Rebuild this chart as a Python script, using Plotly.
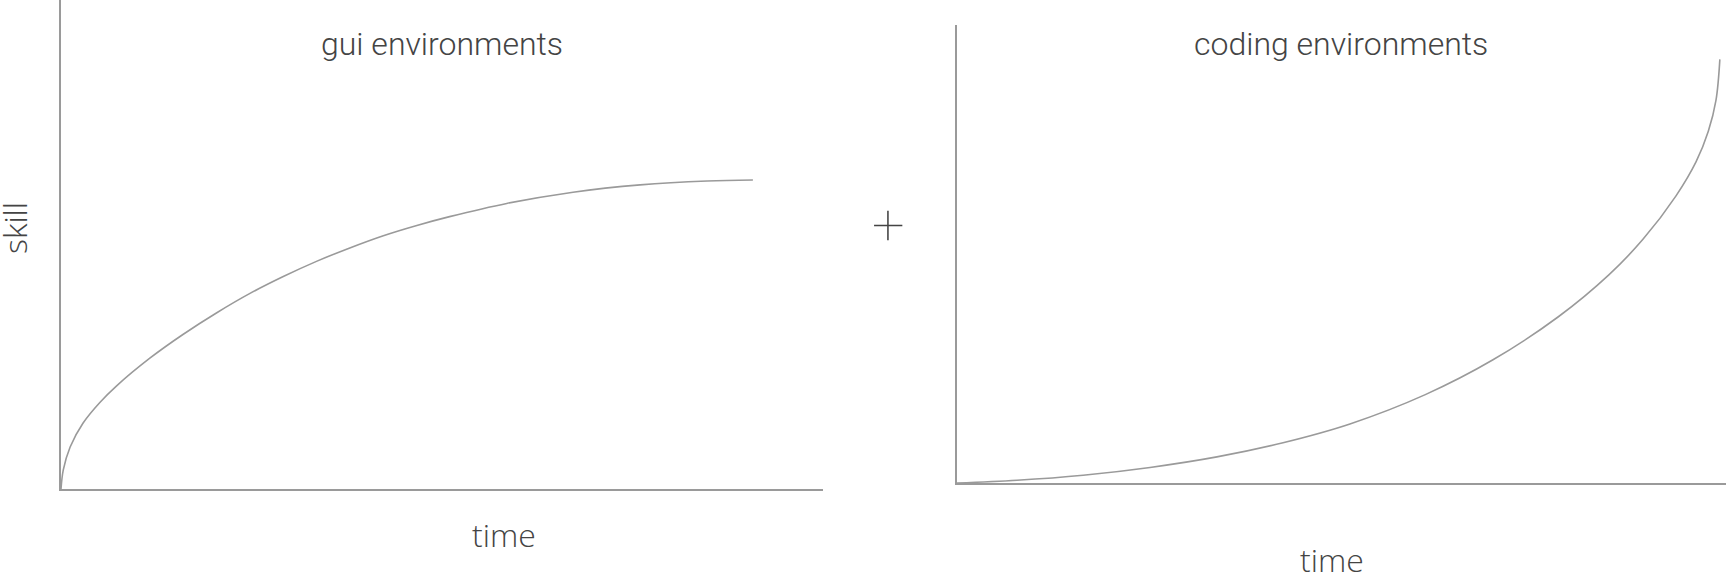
"""skill over time: gui vs coding environments (Plotly)"""
import plotly.graph_objects as go

W, H = 1726, 574

# gui environments: fast early gain, then a plateau
gui_time = [0, 0.3, 1.2, 2.9, 5.1, 7.3, 11.7, 16.0, 20.5, 24.8, 29.1, 33.6,
            37.9, 42.3, 46.7, 51.0, 58.5, 67.2, 76.0, 84.8, 90.8]
gui_skill = [0, 3.9, 8.6, 13.5, 17.7, 21.1, 26.8, 31.6, 36.1, 40.0, 43.4, 46.6,
             49.3, 51.8, 53.9, 55.7, 58.4, 60.7, 62.2, 63.0, 63.2]

# coding environments: slow start, then steep growth
code_time = [0, 7.8, 16.4, 25.1, 33.8, 42.4, 51.1, 60.9, 69.7, 78.2, 84.8,
             89.2, 93.5, 96.1, 97.7, 98.7, 99.2]
code_skill = [0, 0.6, 1.7, 3.4, 5.7, 8.8, 12.9, 19.3, 26.9, 36.3, 45.5,
              53.2, 62.7, 70.1, 76.8, 83.6, 92.5]

titles = ["gui environments", "coding environments"]

line_col = "#9a9a9a"
text_col = "#444444"

fig = go.Figure()
fig.add_trace(go.Scatter(x=gui_time, y=gui_skill, mode="lines",
                         line=dict(color=line_col, width=1.6, shape="spline", smoothing=1),
                         xaxis="x", yaxis="y", hoverinfo="skip", cliponaxis=False))
fig.add_trace(go.Scatter(x=code_time, y=code_skill, mode="lines",
                         line=dict(color=line_col, width=1.6, shape="spline", smoothing=1),
                         xaxis="x2", yaxis="y2", hoverinfo="skip", cliponaxis=False))

ax = dict(showticklabels=False, showgrid=False, zeroline=False, ticks="",
          showline=True, linecolor=line_col, linewidth=1.6, range=[0, 100], fixedrange=True)

def px(x):
    return x / W

def py(y):
    return 1 - y / H

fig.update_layout(
    width=W, height=H, margin=dict(l=0, r=0, t=0, b=0),
    paper_bgcolor="white", plot_bgcolor="white", showlegend=False,
    xaxis=dict(ax, domain=[px(61), px(823)], anchor="y"),
    yaxis=dict(ax, domain=[py(489), 1.0], anchor="x"),
    xaxis2=dict(ax, domain=[px(957), 1.0], anchor="y2"),
    yaxis2=dict(ax, domain=[py(483), py(25)], anchor="x2"),
)

title_font = dict(family="Roboto", size=32, color=text_col, weight=300)
label_font = dict(family="Open Sans", size=32, color=text_col, weight=300)

for txt, cx in zip(titles, [441.5, 1341]):
    fig.add_annotation(text=txt, x=px(cx), y=py(44), xref="paper", yref="paper",
                       showarrow=False, xanchor="center", yanchor="middle", font=title_font)

for cx, cy in [(504, 534), (1332, 559)]:
    fig.add_annotation(text="time", x=px(cx), y=py(cy), xref="paper", yref="paper",
                       showarrow=False, xanchor="center", yanchor="middle", font=label_font)

fig.add_annotation(text="skill", x=px(14), y=py(228), xref="paper", yref="paper",
                   showarrow=False, textangle=-90, xanchor="center", yanchor="middle",
                   font=label_font)

fig.add_annotation(text="+", x=px(889), y=py(225), xref="paper", yref="paper",
                   showarrow=False, xanchor="center", yanchor="middle",
                   font=dict(family="Roboto", size=58, color=text_col, weight=100))

# drop the default body margin so the figure sits at the page corner
fig.write_html("out.html", config={"displayModeBar": False},
               post_script="document.body.style.margin='0';")
